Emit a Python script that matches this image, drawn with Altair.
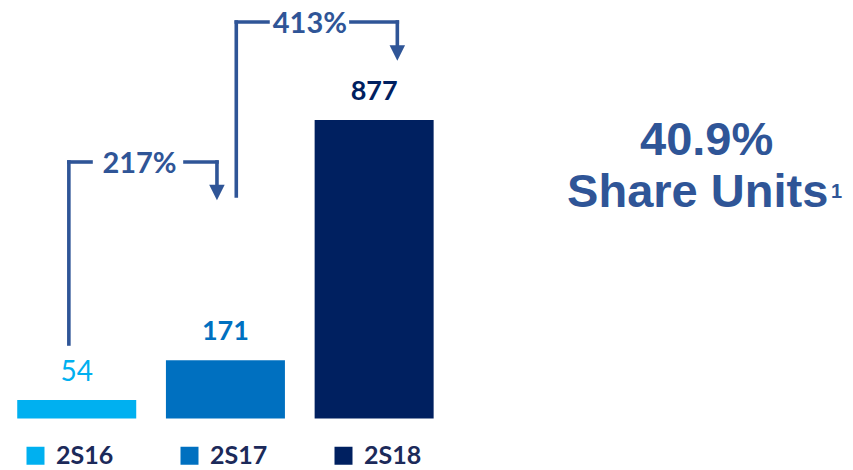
import altair as alt
import pandas as pd

# ---- data ----
periods = ["2S16", "2S17", "2S18"]
units = [54, 171, 877]
bar_colors = ["#00B0F0", "#0070C0", "#002060"]

growth_labels = ["217%", "413%"]

# bracket geometry (in data units: x = bar index, y = units)
seg_x = [-0.053, -0.053, 0.728, 0.943, 1.073, 1.073, 1.844, 2.156]
seg_x2 = [-0.053, 0.096, 0.943, 0.943, 1.073, 1.286, 2.156, 2.156]
seg_y = [218.9, 753.6, 753.6, 753.6, 653.7, 1164.9, 1164.9, 1164.9]
seg_y2 = [753.6, 753.6, 753.6, 683.0, 1164.9, 1164.9, 1164.9, 1094.0]
arrow_x = [0.943, 2.156]
arrow_y = [664.0, 1073.8]
glabel_x = [0.422, 1.568]
glabel_y = [753.6, 1164.9]

share_value = "40.9%"
share_text = "Share Units"
footnote = "1"

BRACKET = "#2F5597"

bars_df = pd.DataFrame({"idx": list(range(len(periods))), "period": periods, "units": units})
seg_df = pd.DataFrame({"x": seg_x, "x2": seg_x2, "y": seg_y, "y2": seg_y2})
arrow_df = pd.DataFrame({"x": arrow_x, "y": arrow_y})
glabel_df = pd.DataFrame({"x": glabel_x, "y": glabel_y, "t": growth_labels})

xs = alt.Scale(domain=[-0.4286, 5.1329], nice=False, zero=False)
ys = alt.Scale(domain=[-151.3, 1206.0], nice=False, zero=False)
cs = alt.Scale(domain=periods, range=bar_colors)

X = lambda f: alt.X(f, type="quantitative", scale=xs, axis=None)
Y = lambda f: alt.Y(f, type="quantitative", scale=ys, axis=None)

bars = alt.Chart(bars_df).mark_bar(width=119).encode(
    x=X("idx"),
    y=Y("units"),
    y2=alt.datum(0),
    color=alt.Color(
        "period:N",
        scale=cs,
        legend=alt.Legend(
            orient="none", legendX=15, legendY=435, direction="horizontal",
            title=None, symbolType="square", symbolSize=324, symbolStrokeWidth=0,
            symbolOpacity=1, labelFont="Lato", labelFontSize=25,
            labelFontWeight="bold", labelColor="#1C2A5A", labelOffset=8,
            columnPadding=63, padding=0, offset=0,
        ),
    ),
)

lab_first = alt.Chart(bars_df).transform_filter(alt.datum.idx == 0).mark_text(
    dy=-19, baseline="alphabetic", align="center", font="Lato", fontSize=28
).encode(x=X("idx"), y=Y("units"), text="units:Q", color=alt.Color("period:N", scale=cs, legend=None))

lab_rest = alt.Chart(bars_df).transform_filter(alt.datum.idx > 0).mark_text(
    dy=-20, baseline="alphabetic", align="center", font="Lato", fontSize=27, fontWeight="bold"
).encode(x=X("idx"), y=Y("units"), text="units:Q", color=alt.Color("period:N", scale=cs, legend=None))

segs = alt.Chart(seg_df).mark_rule(color=BRACKET, strokeWidth=3.6, strokeCap="square").encode(
    x=X("x"), x2="x2", y=Y("y"), y2="y2"
)

arrows = alt.Chart(arrow_df).mark_point(
    shape="M-1,-1L1,-1L0,1Z", filled=True, size=240, color=BRACKET, opacity=1, strokeWidth=0
).encode(x=X("x"), y=Y("y"))

glabels = alt.Chart(glabel_df).mark_text(
    font="Lato", fontSize=29, fontWeight="bold", color=BRACKET, baseline="middle", align="center", dy=2
).encode(x=X("x"), y=Y("y"), text="t:N")

right_df = pd.DataFrame({
    "x": [4.236, 4.176],
    "y": [774.1, 621.4],
    "t": [share_value, share_text],
})
right_txt = alt.Chart(right_df).mark_text(
    font="Liberation Sans", fontSize=47, fontWeight="bold", color=BRACKET,
    baseline="alphabetic", align="center"
).encode(x=X("x"), y=Y("y"), text="t:N")

foot_df = pd.DataFrame({"x": [5.073], "y": [647.8], "t": [footnote]})
foot_txt = alt.Chart(foot_df).mark_text(
    font="Liberation Sans", fontSize=20, fontWeight="bold", color=BRACKET,
    baseline="alphabetic", align="left"
).encode(x=X("x"), y=Y("y"), text="t:N")

chart = alt.layer(bars, lab_first, lab_rest, segs, arrows, glabels, right_txt, foot_txt).properties(
    width=837, height=462, padding=0, autosize=alt.AutoSizeParams(type="none"),
    background="white",
).configure_view(stroke=None)

chart.save("out.html", embed_options={"renderer": "svg", "actions": False})
